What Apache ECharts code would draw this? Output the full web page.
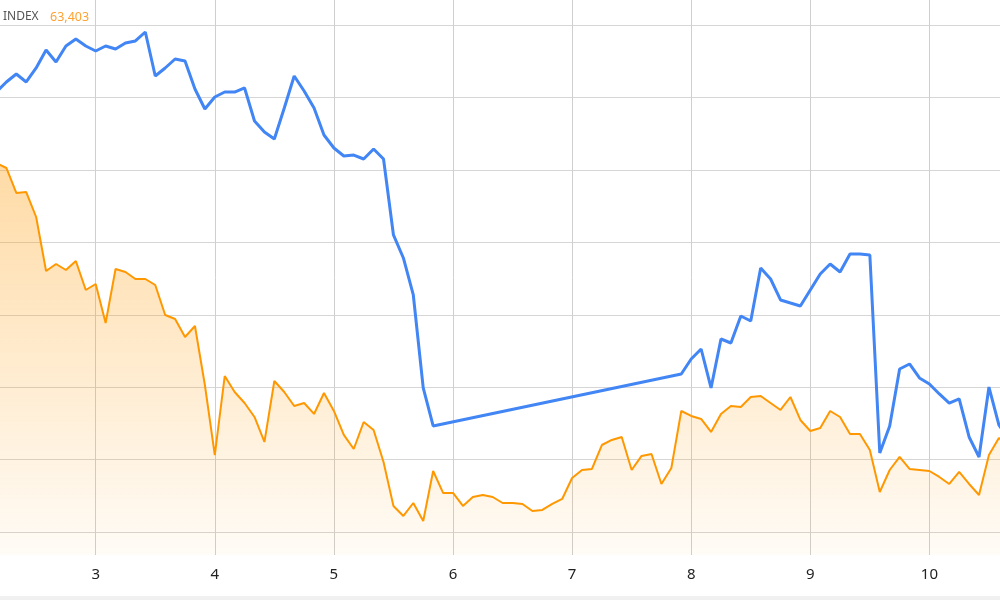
<!DOCTYPE html>
<html>
<head>
<meta charset="utf-8">
<script src="https://cdn.jsdelivr.net/npm/echarts@6/dist/echarts.min.js"></script>
<style>
  html, body { margin: 0; padding: 0; background: #fff; }
  #chart { width: 1000px; height: 600px; }
</style>
</head>
<body>
<div id="chart"></div>
<script>
// monthly samples, 12 per axis unit, first one 10 months before 3
const firstX = 3 - 10 / 12
const stepX = 1 / 12

const xTicks = [2, 3, 4, 5, 6, 7, 8, 9, 10, 11]

// blue line (gap 35..58 is bridged)
const blueValues = [
  66076, 66215, 66325, 66215, 66408, 66656, 66491, 66712, 66808, 66712,
  66643, 66712, 66670, 66753, 66781, 66905, 66297, 66408, 66532, 66505,
  66118, 65842, 66007, 66076, 66076, 66132, 65676, 65524, 65427, 65855,
  66297, 66090, 65855, 65483, 65303, 65193, 65206, 65151, 65289, 65151,
  64102, 63784, 63273, 61989, 61464,
  null, null, null, null, null, null, null, null, null, null, null, null,
  null, null, null, null, null, null, null, null, null, null, null, null,
  62182, 62389, 62527, 61989, 62665, 62610, 62983, 62914, 63646, 63494,
  63204, 63162, 63121, 63342, 63563, 63701, 63591, 63839, 63839, 63825,
  61091, 61464, 62251, 62320, 62127, 62044, 61906, 61781, 61837, 61312,
  61036, 62002, 61478, 61271
]

// orange area
const orangeValues = [
  65096, 65027, 64682, 64695, 64350, 63604, 63701, 63618, 63743, 63342,
  63425, 62886, 63632, 63591, 63494, 63494, 63411, 62997, 62942, 62693,
  62845, 62030, 61063, 62154, 61933, 61781, 61588, 61243, 62085, 61933,
  61740, 61781, 61630, 61920, 61671, 61340, 61146, 61519, 61409, 60967,
  60359, 60221, 60400, 60152, 60842, 60539, 60539, 60359, 60483, 60511,
  60483, 60400, 60400, 60387, 60290, 60304, 60387, 60456, 60746, 60856,
  60870, 61201, 61271, 61312, 60856, 61050, 61077, 60663, 60884, 61671,
  61602, 61561, 61381, 61630, 61740, 61726, 61864, 61878, 61781, 61685,
  61864, 61547, 61395, 61436, 61671, 61588, 61353, 61353, 61132, 60552,
  60856, 61036, 60870, 60856, 60842, 60760, 60663, 60829, 60663, 60511,
  61063, 61298, 61201
]

const indexLabel = 'INDEX'
const indexValue = '63,403'

const chart = echarts.init(document.getElementById('chart'))

const xAt = i => firstX + i * stepX
const blueData = blueValues.map((v, i) => [xAt(i), v])
const orangeData = orangeValues.map((v, i) => [xAt(i), v])

const option = {
  animation: false,
  textStyle: { fontFamily: 'Noto Sans' },
  title: {
    left: -2,
    top: 3,
    text: '{a|' + indexLabel + '}  {b|' + indexValue + '}',
    textStyle: {
      rich: {
        a: { color: '#555', fontSize: 12, fontWeight: 'normal', fontFamily: 'Noto Sans' },
        b: { color: '#ffa22e', fontSize: 12.5, fontWeight: 'normal', fontFamily: 'Noto Sans', padding: [0, 0, 0, 2] }
      }
    }
  },
  grid: {
    left: -23.4,
    right: -48.5,
    top: 0,
    bottom: 45,
    containLabel: false,
    outerBoundsMode: 'none'
  },
  xAxis: {
    type: 'value',
    min: xTicks[0],
    max: xTicks[xTicks.length - 1],
    interval: 1,
    axisLine: { show: false },
    axisTick: { show: false },
    axisLabel: {
      color: '#222',
      fontSize: 15,
      margin: 12
    },
    splitLine: {
      show: true,
      lineStyle: { color: '#cfcfcf', width: 1 }
    }
  },
  yAxis: {
    type: 'value',
    min: 59682,
    max: 67347,
    splitNumber: 8,
    minInterval: 1000,
    maxInterval: 1000,
    axisLine: { show: false },
    axisTick: { show: false },
    axisLabel: { show: false },
    splitLine: {
      show: true,
      showMinLine: false,
      showMaxLine: false,
      lineStyle: { color: '#d6d6d6', width: 1 }
    }
  },
  series: [
    {
      name: 'area',
      type: 'line',
      data: orangeData,
      showSymbol: false,
      symbol: 'none',
      lineStyle: { color: '#ff9800', width: 2 },
      itemStyle: { color: '#ff9800' },
      areaStyle: {
        origin: 'start',
        color: new echarts.graphic.LinearGradient(0, 0, 0, 1, [
          { offset: 0, color: 'rgba(255,152,0,0.5)' },
          { offset: 1, color: 'rgba(255,152,0,0.05)' }
        ])
      },
      z: 2
    },
    {
      name: 'line',
      type: 'line',
      data: blueData,
      connectNulls: true,
      showSymbol: false,
      symbol: 'none',
      lineStyle: { color: '#4285f4', width: 3 },
      itemStyle: { color: '#4285f4' },
      z: 3
    }
  ],
  graphic: [
    {
      type: 'rect',
      left: 0,
      top: 596,
      shape: { width: 1000, height: 4 },
      style: { fill: '#f0f0f0' },
      silent: true
    }
  ]
}

chart.setOption(option)
</script>
</body>
</html>
